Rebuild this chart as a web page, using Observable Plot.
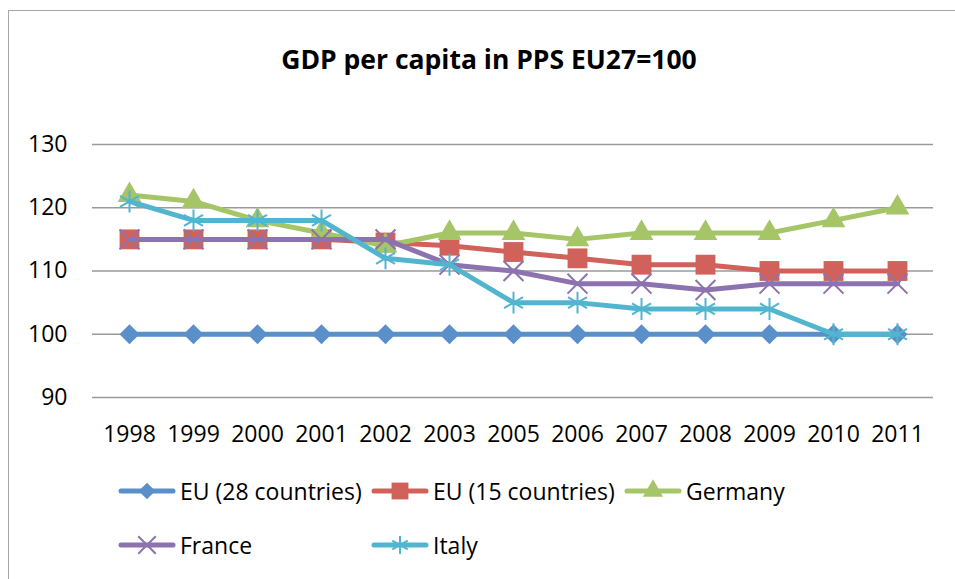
<!DOCTYPE html>
<html>
<head>
<meta charset="utf-8">
<script src="https://cdn.jsdelivr.net/npm/d3@7"></script>
<script src="https://cdn.jsdelivr.net/npm/@observablehq/plot@0.6"></script>
<style>
  html, body { margin: 0; padding: 0; background: #fff; }
  #wrap { position: relative; width: 955px; height: 579px; overflow: hidden; font-family: "Open Sans", sans-serif; color: #000; }
  #border { position: absolute; left: 8px; top: 10px; width: 1000px; height: 700px; border: 1.5px solid #a6a6a6; box-sizing: border-box; }
  #title { position: absolute; left: 0; width: 978px; top: 38px; text-align: center; font-weight: bold; font-size: 26.5px; line-height: 42px; }
  #chart { position: absolute; left: 0; top: 0; }
  .leg { position: absolute; display: flex; align-items: center; font-size: 23px; white-space: nowrap; }
  .leg svg { display: block; margin-right: 4px; }
</style>
</head>
<body>
<div id="wrap">
  <div id="border"></div>
  <div id="title">GDP per capita in PPS EU27=100</div>
  <div id="chart"></div>
  <div id="legend"></div>
</div>
<script>
const years = ["1998","1999","2000","2001","2002","2003","2005","2006","2007","2008","2009","2010","2011"];
const seriesNames = ["EU (28 countries)","EU (15 countries)","Germany","France","Italy"];
const eu28    = [100,100,100,100,100,100,100,100,100,100,100,100,100];
const eu15    = [115,115,115,115,114.5,114,113,112,111,111,110,110,110];
const germany = [122,121,118,116,114,116,116,115,116,116,116,118,120];
const france  = [115,115,115,115,115,111,110,108,108,107,108,108,108];
const italy   = [121,118,118,118,112,111,105,105,104,104,104,100,100];
const yTicks  = [90,100,110,120,130];

const colors  = ["#5b8fc9","#d0625b","#a5c566","#8d72b0","#52b5cf"];
const symbols = ["diamond2","square","triangle","times","asterisk"];
const filled  = [true,true,true,false,false];
const radii   = [9,11.2,8.8,9.1,10.4];
const legRadii = [7.5,9.5,7.5,8,8.5];

const values = [eu28, eu15, germany, france, italy];
const data = [];
seriesNames.forEach((s, i) => values[i].forEach((v, j) => data.push({series: s, year: years[j], value: v, idx: i})));

const marks = [
  Plot.gridY(yTicks, {stroke: "#9a9a9a", strokeOpacity: 1, strokeWidth: 1.6})
];
seriesNames.forEach((s, i) => {
  const d = data.filter(r => r.idx === i);
  marks.push(Plot.line(d, {x: "year", y: "value", stroke: colors[i], strokeWidth: 5, strokeLinejoin: "round", strokeLinecap: "round"}));
  if (filled[i]) {
    marks.push(Plot.dot(d, {x: "year", y: "value", symbol: () => symbols[i], fill: colors[i], stroke: "none", r: radii[i]}));
  } else {
    marks.push(Plot.dot(d, {x: "year", y: "value", symbol: () => symbols[i], stroke: colors[i], strokeWidth: 2, r: radii[i]}));
  }
});
marks.push(Plot.axisY(yTicks, {tickSize: 0, tickPadding: 25, fontSize: 23, fill: "#000", label: null}));
marks.push(Plot.axisX(years, {tickSize: 0, tickPadding: 28, fontSize: 23, fill: "#000", label: null}));

const chart = Plot.plot({
  width: 955,
  height: 460,
  marginLeft: 92,
  marginRight: 22,
  marginTop: 144,
  marginBottom: 63,
  style: {fontFamily: "Open Sans", background: "transparent", color: "#000"},
  x: {type: "point", domain: years, padding: 0.5, label: null},
  y: {domain: [90, 130], label: null},
  symbol: {type: "identity"},
  marks
});
document.getElementById("chart").appendChild(chart);

// legend
const legPos = [[118,491],[371,491],[624,491],[118,545],[371,545]];
const legend = document.getElementById("legend");
const symMap = {diamond2: d3.symbolDiamond2, square: d3.symbolSquare, triangle: d3.symbolTriangle, times: d3.symbolTimes, asterisk: d3.symbolAsterisk};
seriesNames.forEach((s, i) => {
  const div = document.createElement("div");
  div.className = "leg";
  div.style.left = legPos[i][0] + "px";
  div.style.top = (legPos[i][1] - 18) + "px";
  div.style.height = "36px";
  const svg = d3.create("svg").attr("width", 58).attr("height", 36);
  svg.append("line").attr("x1", 3).attr("x2", 55).attr("y1", 18).attr("y2", 18)
    .attr("stroke", colors[i]).attr("stroke-width", 5).attr("stroke-linecap", "round");
  const path = svg.append("path")
    .attr("transform", "translate(29,18)")
    .attr("d", d3.symbol(symMap[symbols[i]], legRadii[i] * legRadii[i] * Math.PI)());
  if (filled[i]) path.attr("fill", colors[i]);
  else path.attr("fill", "none").attr("stroke", colors[i]).attr("stroke-width", 2);
  div.appendChild(svg.node());
  const span = document.createElement("span");
  span.textContent = s;
  div.appendChild(span);
  legend.appendChild(div);
});
</script>
</body>
</html>
